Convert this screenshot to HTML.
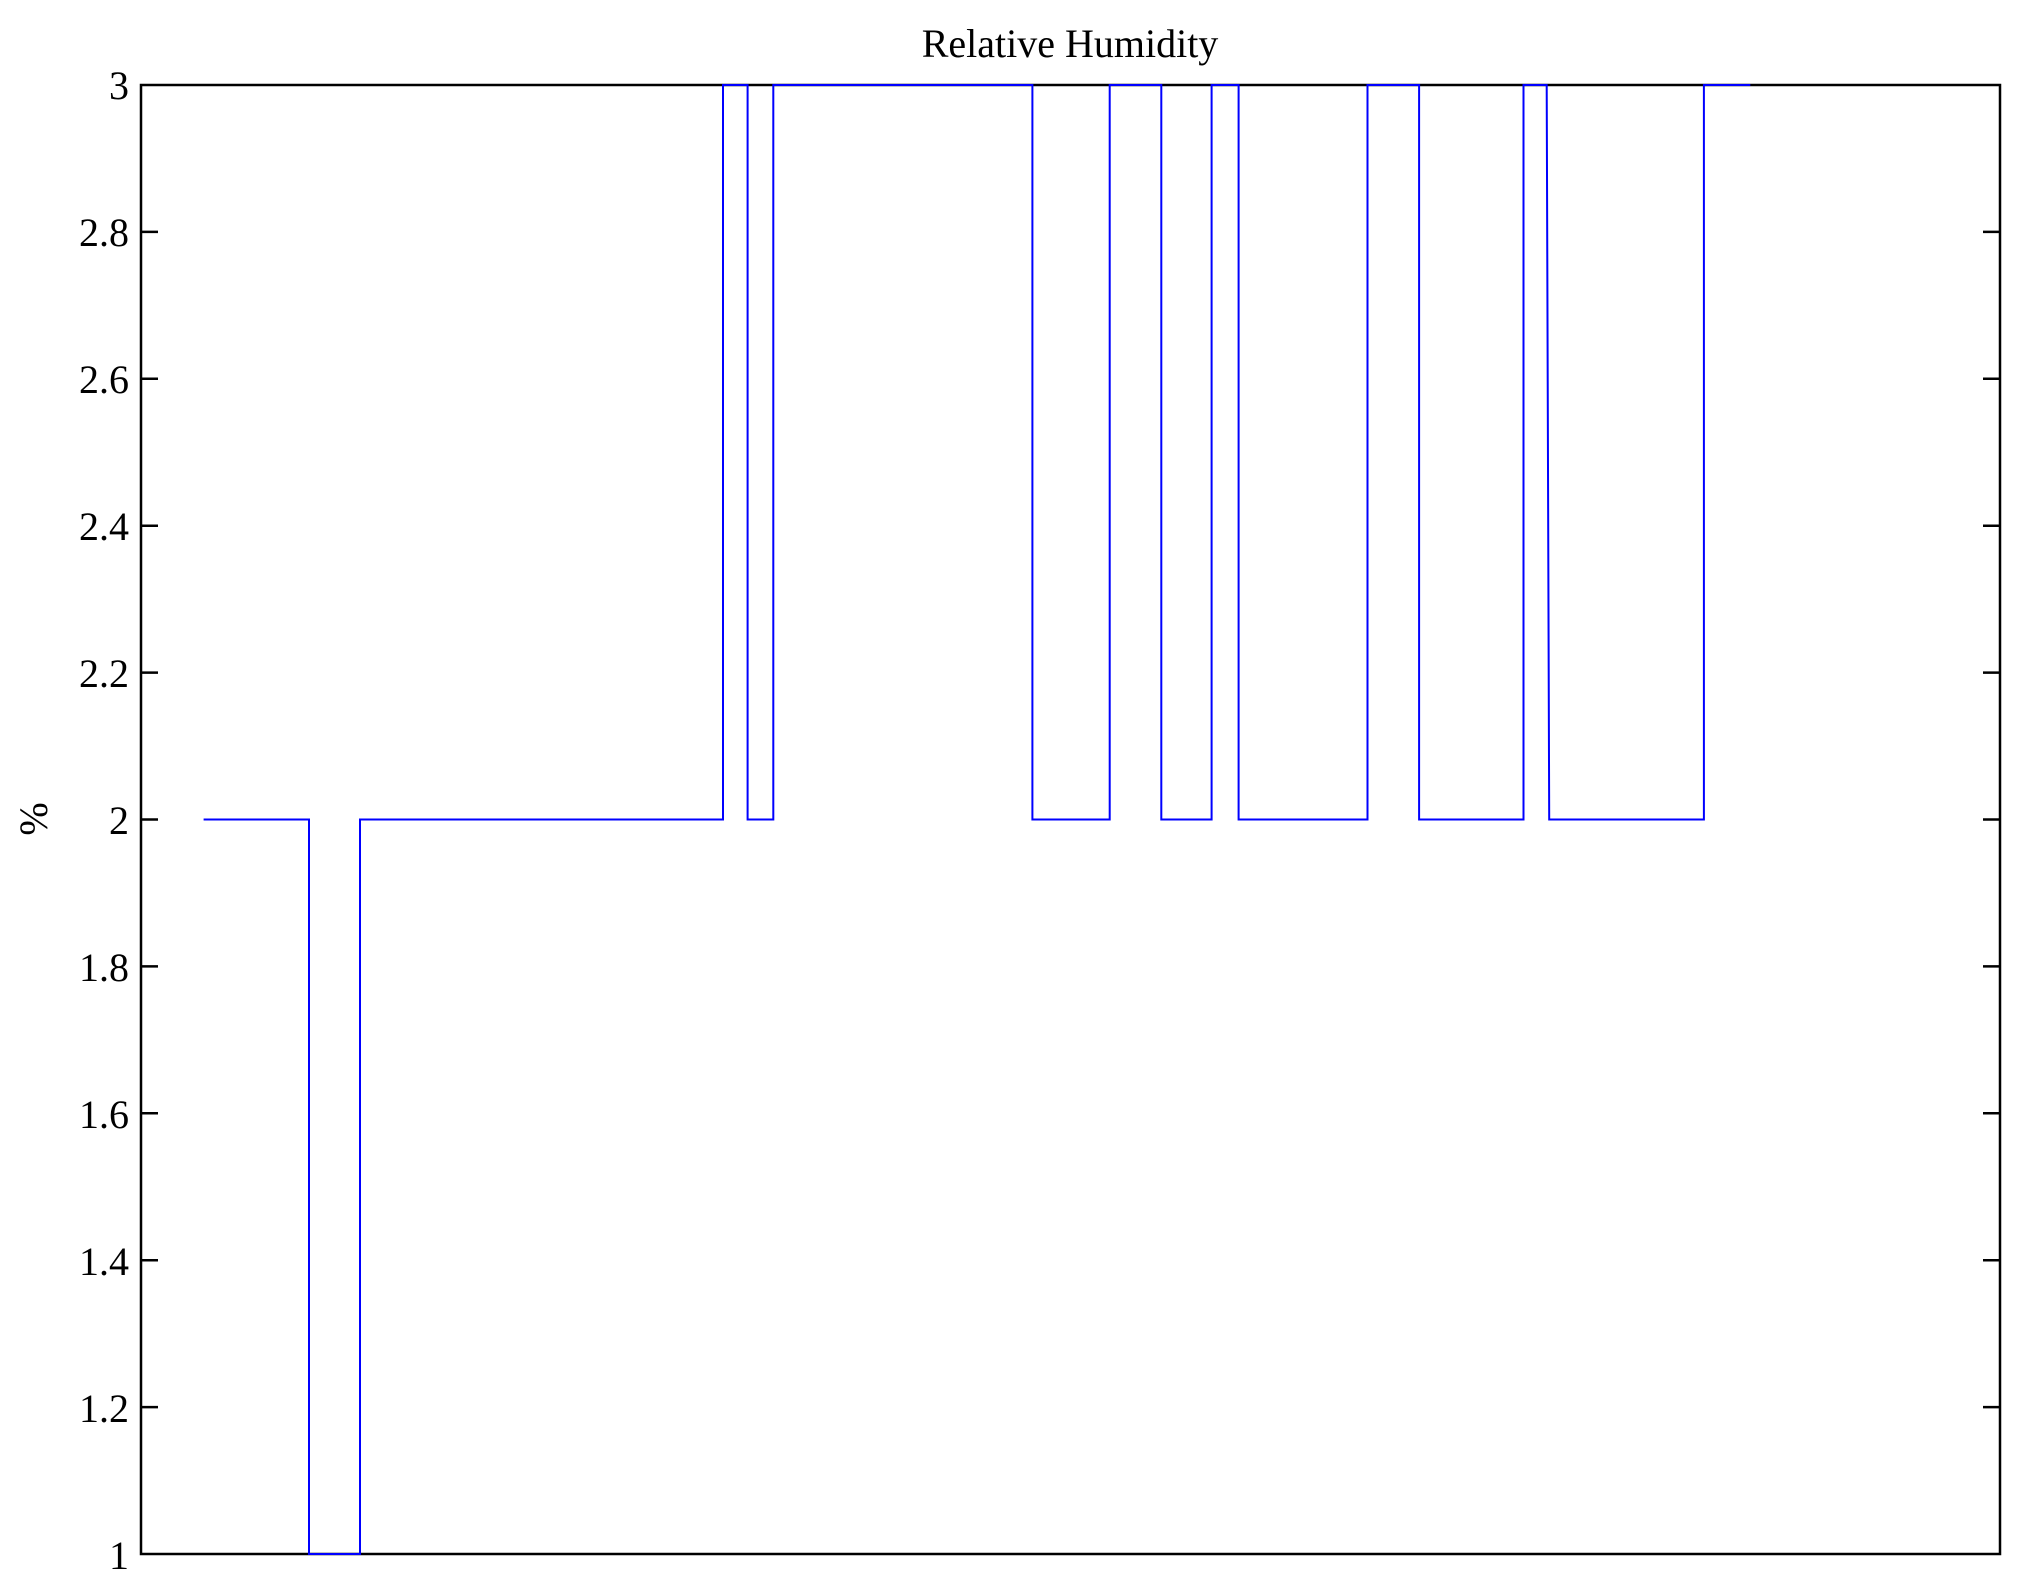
<!DOCTYPE html>
<html><head><style>body{margin:0;background:#fff}</style></head><body>
<svg width="2021" height="1579" xmlns="http://www.w3.org/2000/svg" font-family="Liberation Serif, serif">
<rect width="2021" height="1579" fill="#fff"/>
<g stroke="#000" stroke-width="2.5" fill="none">
<rect x="141" y="85" width="1859" height="1469"/>
<path d="M141 231.9h17M141 378.8h17M141 525.7h17M141 672.6h17M141 819.5h17M141 966.4h17M141 1113.3h17M141 1260.2h17M141 1407.1h17
M2000 231.9h-17M2000 378.8h-17M2000 525.7h-17M2000 672.6h-17M2000 819.5h-17M2000 966.4h-17M2000 1113.3h-17M2000 1260.2h-17M2000 1407.1h-17"/>
</g>
<polyline fill="none" stroke="#00f" stroke-width="2" points="203.6,819.5 309,819.5 309,1554 360,1554 360,819.5 723,819.5 723,85 747.6,85 747.6,819.5 773.3,819.5 773.3,85 1032.4,85 1032.4,819.5 1109.7,819.5 1109.7,85 1161.3,85 1161.3,819.5 1211.6,819.5 1211.6,85 1238.6,85 1238.6,819.5 1367.5,819.5 1367.5,85 1419.1,85 1419.1,819.5 1523.5,819.5 1523.5,85 1546.7,85 1549.2,819.5 1703.9,819.5 1703.9,85 1750.3,85"/>
<g font-size="40" text-anchor="end" fill="#000">
<text x="129" y="99">3</text>
<text x="129" y="246">2.8</text>
<text x="129" y="393">2.6</text>
<text x="129" y="540">2.4</text>
<text x="129" y="687">2.2</text>
<text x="129" y="834">2</text>
<text x="129" y="981">1.8</text>
<text x="129" y="1128">1.6</text>
<text x="129" y="1275">1.4</text>
<text x="129" y="1422">1.2</text>
<text x="129" y="1569">1</text>
</g>
<text x="1070" y="57" font-size="40" text-anchor="middle">Relative Humidity</text>
<text transform="translate(47,819) rotate(-90)" font-size="40" text-anchor="middle">%</text>
</svg>
</body></html>
